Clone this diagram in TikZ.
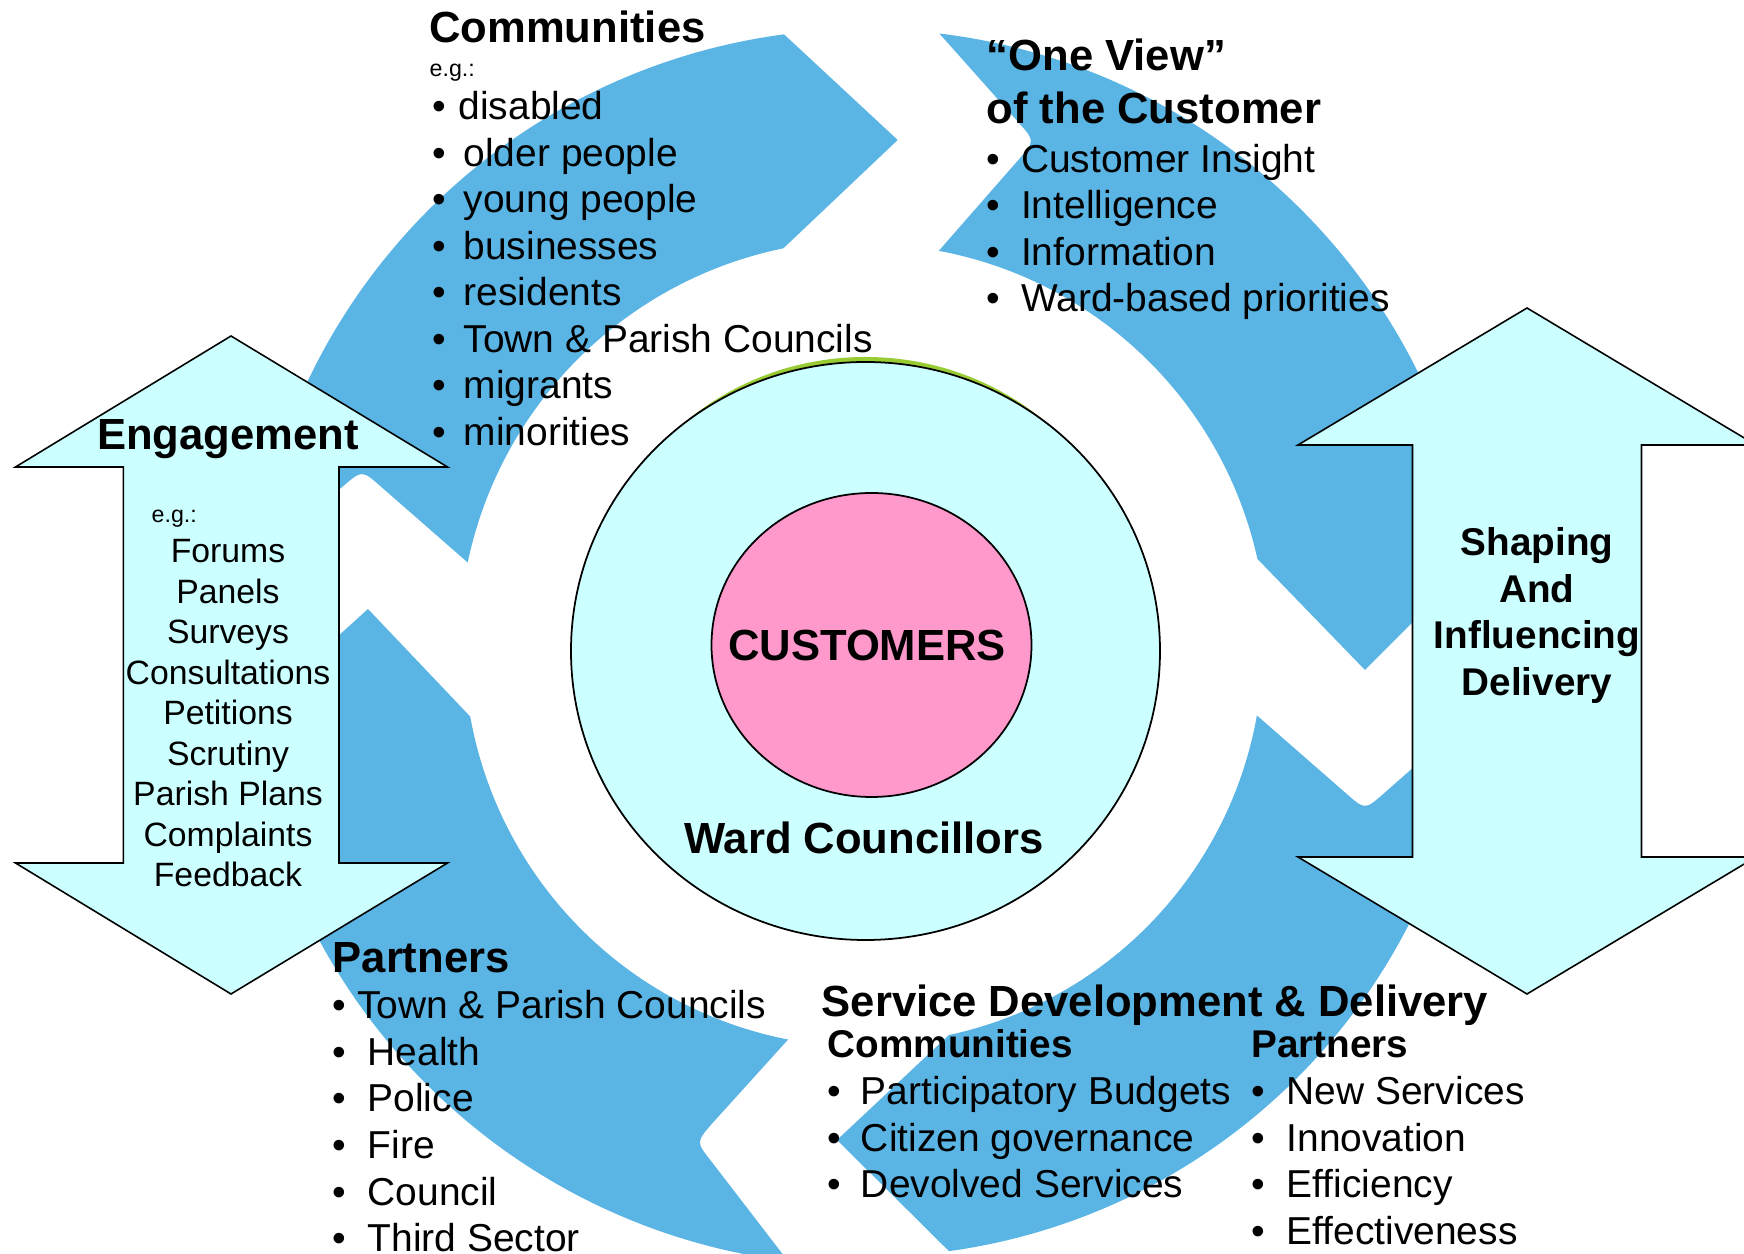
\documentclass[tikz,border=0pt]{standalone}
\usepackage{fontspec}
\setmainfont{Liberation Sans}
\definecolor{ringblue}{RGB}{90,181,229}
\definecolor{paleteal}{RGB}{204,255,255}
\definecolor{custpink}{RGB}{255,153,204}
\definecolor{rimgreen}{RGB}{153,204,51}
\newlength{\pxu}
\setlength{\pxu}{0.01cm}
\begin{document}
    \begin{tikzpicture}[x=0.01cm, y=0.01cm,
        headtxt/.style={font=\fontsize{12.4pt}{14pt}\selectfont\bfseries, inner sep=0pt, anchor=base west},
        subtxt/.style={font=\fontsize{11pt}{13pt}\selectfont\bfseries, inner sep=0pt},
        itemtxt/.style={font=\fontsize{11.07pt}{13pt}\selectfont, inner sep=0pt, anchor=base west},
        egtxt/.style={font=\fontsize{6.6pt}{8pt}\selectfont, inner sep=0pt, anchor=base west},
        engtxt/.style={font=\fontsize{9.6pt}{11pt}\selectfont, inner sep=0pt, anchor=base},
        dblarrow/.style={draw=black, line width=0.45pt, fill=paleteal}]
        \useasboundingbox (0,0) rectangle (1744,1254);
        \clip (0,0) rectangle (1744,1254);
        \begin{scope}[shift={(865,608)}, fill=ringblue]
            \fill (172.27:617) arc[start angle=172.27, end angle=97.54, radius=617] -- (32.7,506)
                -- (101.6:406) arc[start angle=101.6, end angle=168.13, radius=406]
                -- (-484.2,159.5) .. controls (-503,176) .. (-522,159.7) -- cycle;
            \fill (83.08:617) arc[start angle=83.08, end angle=8.1, radius=617] -- (500,-24)
                -- (12.5:402) arc[start angle=12.5, end angle=79.42, radius=402]
                -- (153.5,486.2) .. controls (170,505) .. (153.4,523.7) -- cycle;
            \fill (-6.57:611) arc[start angle=-6.57, end angle=-82.1, radius=611] -- (-28,-494)
                -- (-77.82:398) arc[start angle=-77.82, end angle=-10.05, radius=398]
                -- (481.2,-147.5) .. controls (500,-164) .. (518.8,-147.5) -- cycle;
            \fill (-97.13:620) arc[start angle=-97.13, end angle=-173.45, radius=620] -- (-497,37)
                -- (-169.85:401) arc[start angle=-169.85, end angle=-101.06, radius=401]
                -- (-152.6,-477.2) .. controls (-169,-496) .. (-153.5,-515.6) -- cycle;
        \end{scope}
        \draw[dblarrow] (231,918) -- (447.5,787) -- (339,787) -- (339,391) -- (447.5,391) -- (231,260)
            -- (15.5,391) -- (123.3,391) -- (123.3,787) -- (15.5,787) -- cycle;
        \draw[dblarrow] (1527,946) -- (1756,809) -- (1641.5,809) -- (1641.5,397) -- (1756,397) -- (1527,260)
            -- (1298,397) -- (1412.5,397) -- (1412.5,809) -- (1298,809) -- cycle;
        \fill[rimgreen] (865.5,624) ellipse[x radius=278.5, y radius=273];
        \draw[fill=paleteal, line width=0.5pt] (865.5,603) ellipse[x radius=294.5, y radius=289];
        \draw[fill=custpink, line width=0.5pt] (871.5,609) ellipse[x radius=160, y radius=152];
        \node[headtxt, anchor=base] (customers) at (867,593) {CUSTOMERS};
        \node[headtxt, anchor=base] (ward) at (864,400) {Ward Councillors};
        \node[headtxt] (commhead) at (428.6,1211) {Communities};
        \node[egtxt] (commeg) at (429,1177) {e.g.:};
        \foreach \gap/\txt [count=\i from 0] in {26/disabled, 31/older people, 31/young people, 31/businesses,
            31/residents, 31/Town \& Parish Councils, 31/migrants, 31/minorities}
            \node[itemtxt] (comm\i) at (432,{1134-46.5*\i}) {\makebox[\gap\pxu][l]{\textbullet}\txt};
        \node[headtxt] (viewhead) at (986,1183) {“One View”};
        \node[headtxt] (viewsub) at (986,1130.5) {of the Customer};
        \foreach \txt [count=\i from 0] in {Customer Insight, Intelligence, Information, Ward-based priorities}
            \node[itemtxt] (view\i) at (985.5,{1081.5-46.3*\i}) {\makebox[35\pxu][l]{\textbullet}\txt};
        \node[headtxt, anchor=base] (enghead) at (228,804) {Engagement};
        \node[egtxt] (engeg) at (151,731.5) {e.g.:};
        \foreach \txt [count=\i from 0] in {Forums, Panels, Surveys, Consultations, Petitions, Scrutiny,
            Parish Plans, Complaints, Feedback}
            \node[engtxt] (eng\i) at (228,{691-40.46*\i}) {\txt};
        \foreach \txt [count=\i from 0] in {Shaping, And, Influencing, Delivery}
            \node[subtxt, anchor=base] (shape\i) at (1537,{698-46.5*\i}) {\txt};
        \node[headtxt] (parthead) at (332,281.5) {Partners};
        \foreach \gap/\txt [count=\i from 0] in {24.5/Town \& Parish Councils, 35/Health, 35/Police, 35/Fire,
            35/Council, 35/Third Sector}
            \node[itemtxt] (part\i) at (332,{235.5-46.7*\i}) {\makebox[\gap\pxu][l]{\textbullet}\txt};
        \node[headtxt] (servhead) at (821,237.5) {Service Development \& Delivery};
        \node[subtxt, anchor=base west] (servcomm) at (827,196.5) {Communities};
        \foreach \txt [count=\i from 0] in {Participatory Budgets, Citizen governance, Devolved Services}
            \node[itemtxt] (servc\i) at (827,{149.5-46.65*\i}) {\makebox[33.3\pxu][l]{\textbullet}\txt};
        \node[subtxt, anchor=base west] (servpart) at (1250.5,196) {Partners};
        \foreach \txt [count=\i from 0] in {New Services, Innovation, Efficiency, Effectiveness}
            \node[itemtxt] (servp\i) at (1251,{149.5-46.75*\i}) {\makebox[35\pxu][l]{\textbullet}\txt};
    \end{tikzpicture}
\end{document}
